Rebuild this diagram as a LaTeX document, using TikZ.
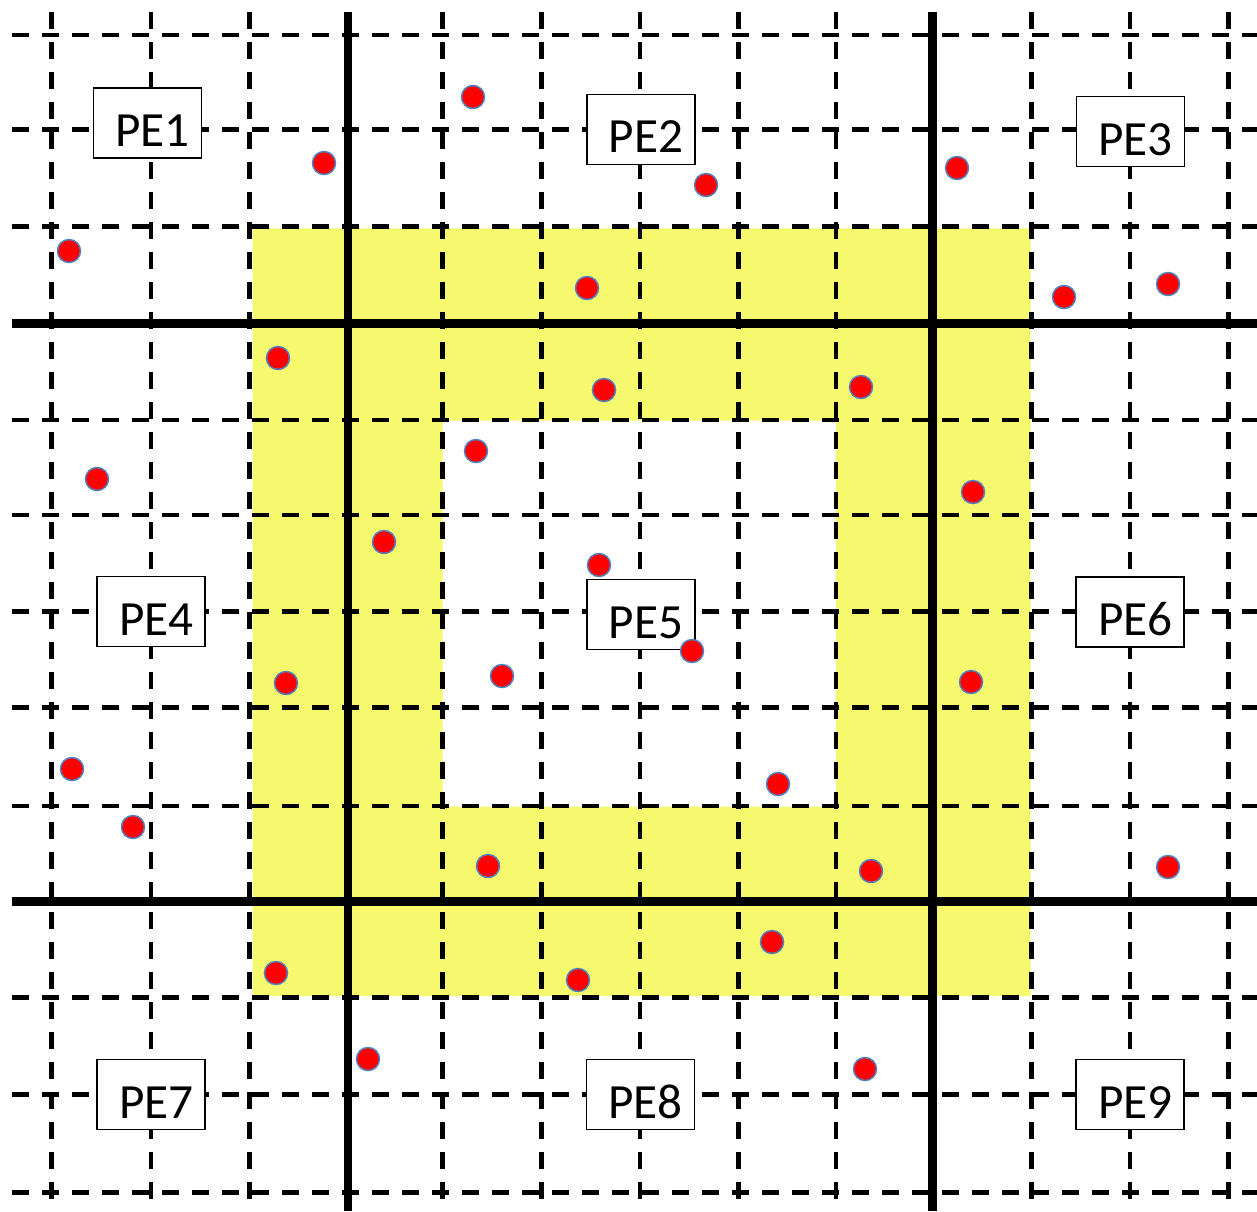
\documentclass[tikz,border=0pt]{standalone}
\usepackage{fontspec}
\setmainfont{Carlito}

\begin{document}
\begin{tikzpicture}[
  x=0.02cm, y=-0.02cm,
  gridline/.style={line width=0.09cm, dash pattern=on 0.34cm off 0.26cm},
  bound/.style={line width=0.17cm},
  dot/.style={circle, minimum size=0.46cm, inner sep=0pt, fill=red,
    draw=dotblue, line width=0.03cm},
  pebox/.style={draw, fill=white, line width=0.03cm, inner sep=0pt,
    minimum width=2.16cm, minimum height=1.4cm, text height=0.94cm,
    text depth=0pt, font=\fontsize{28}{30}\selectfont}
]

\definecolor{halo}{RGB}{246,249,110}
\definecolor{dotblue}{RGB}{79,129,189}

\useasboundingbox (0,0) rectangle (1257,1211);

% ghost cells around PE5
\fill[halo, even odd rule] (252.7,228.3) rectangle (1030.5,996)
  (442.7,420.7) rectangle (836,806.7);

% cell grid
\foreach \x in {51.7,151,249.3,442.7,541.7,640,738.3,836,1031.7,1130,1228.3}
  \draw[gridline] (\x,12) -- (\x,1211);
\foreach \y in {35,129.3,226.7,420,515,611.7,707.3,806,997.7,1094.7,1192.3}
  \draw[gridline] (12,\y) -- (1257,\y);

% processor boundaries
\draw[bound] (348,12) -- (348,1211);
\draw[bound] (932.7,12) -- (932.7,1211);
\draw[bound] (12,323.3) -- (1257,323.3);
\draw[bound] (12,901.7) -- (1257,901.7);

\foreach \n/\x/\y in {1/147.5/123, 2/640.9/129.3, 3/1130.5/131.7,
    4/151.2/611.7, 5/640.9/614.7, 6/1130.2/612,
    7/151.2/1094.5, 8/640.5/1094.5, 9/1130.2/1094.5}
  \node[pebox] (pe\n) at (\x,\y) {\hspace*{0.2cm}PE\n};

% particles
\foreach \x/\y [count=\k] in {324/163, 473/97, 706/185, 957/168, 69/251,
    587/288, 1064/297, 1168/284, 278/358, 604/390, 861/387, 476/451,
    97/479, 973/492, 384/542, 599/565, 692/651, 286/683, 502/676,
    971/682, 72/769, 133/827, 778/784, 488/866, 871/871, 1168/867,
    772/942, 276/973, 578/980, 368/1059, 865/1069}
  \node[dot] (d\k) at (\x,\y) {};

\end{tikzpicture}
\end{document}
